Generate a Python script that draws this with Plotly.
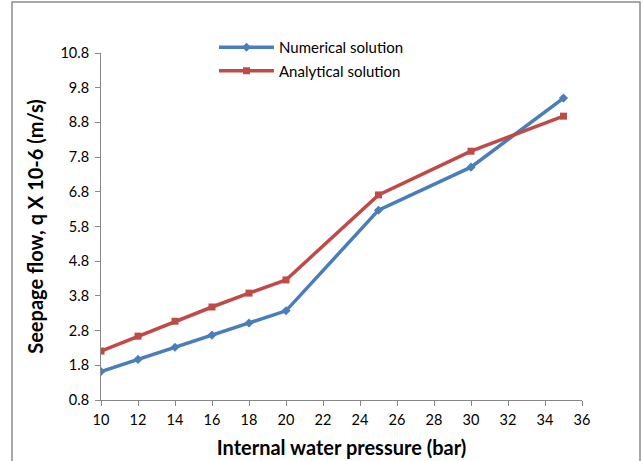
import plotly.graph_objects as go

pressure = [10, 12, 14, 16, 18, 20, 25, 30, 35]
numerical = [1.62, 1.97, 2.32, 2.67, 3.02, 3.37, 6.27, 7.51, 9.50]
analytical = [2.21, 2.64, 3.07, 3.48, 3.88, 4.26, 6.71, 7.97, 8.98]

x_ticks = list(range(10, 37, 2))
y_ticks = [0.8, 1.8, 2.8, 3.8, 4.8, 5.8, 6.8, 7.8, 8.8, 9.8, 10.8]

BLUE = "#4A7EBB"
RED = "#BE4B48"
FONT = "Lato, 'Open Sans', sans-serif"

L, R, T, B = 101, 60, 53, 61
W, H = 642, 461
pw = W - L - R
ph = H - T - B

def px(xpix):
    return (xpix - L) / pw

def py(ypix):
    return (H - B - ypix) / ph

fig = go.Figure()
fig.add_trace(go.Scatter(
    x=pressure, y=numerical, name="Numerical solution",
    mode="lines+markers", legendgroup="a",
    line=dict(color=BLUE, width=3.5),
    marker=dict(symbol="diamond", size=7, color=BLUE),
))
fig.add_trace(go.Scatter(
    x=pressure, y=analytical, name="Analytical solution",
    mode="lines+markers", legendgroup="b",
    line=dict(color=RED, width=3.5),
    marker=dict(symbol="square", size=7, color=RED),
))

fig.update_layout(
    width=W, height=H,
    margin=dict(l=L, r=R, t=T, b=B, autoexpand=False),
    paper_bgcolor="white", plot_bgcolor="white",
    font=dict(family=FONT, size=14, color="#000000"),
    showlegend=True,
    legend=dict(
        x=px(214), y=py(31), xanchor="left", yanchor="top",
        bgcolor="rgba(0,0,0,0)", tracegroupgap=1,
        font=dict(family=FONT, size=15), itemwidth=55,
    ),
    xaxis=dict(
        range=[10, 36], tickvals=x_ticks, ticktext=[str(v) for v in x_ticks],
        showgrid=False, zeroline=False, showline=True, linecolor="#888888", linewidth=1,
        ticks="outside", ticklen=5, tickcolor="#888888", automargin=False,
        tickfont=dict(family=FONT, size=14.5), ticklabelstandoff=2,
        title=dict(text="<b>Internal water pressure (bar)</b>", font=dict(family=FONT, size=20), standoff=13),
    ),
    yaxis=dict(
        range=[0.8, 10.8], tickvals=y_ticks, ticktext=[f"{v:.1f}" for v in y_ticks],
        showgrid=False, zeroline=False, showline=True, linecolor="#888888", linewidth=1,
        ticks="outside", ticklen=5, tickcolor="#888888", automargin=False,
        tickfont=dict(family=FONT, size=14.5), ticklabelstandoff=3,
        title=dict(text="<b>Seepage flow, q X 10-6 (m/s)</b>", font=dict(family=FONT, size=20), standoff=11),
    ),
    shapes=[dict(
        type="rect", xref="paper", yref="paper",
        x0=px(12), x1=px(640), y0=py(475), y1=py(2),
        line=dict(color="#8C8C8C", width=1.5), fillcolor="rgba(0,0,0,0)", layer="below",
    )],
)

fig.write_html(
    "out.html",
    config={"displayModeBar": False},
    post_script="document.body.style.margin='0';document.body.style.overflow='hidden';",
)
